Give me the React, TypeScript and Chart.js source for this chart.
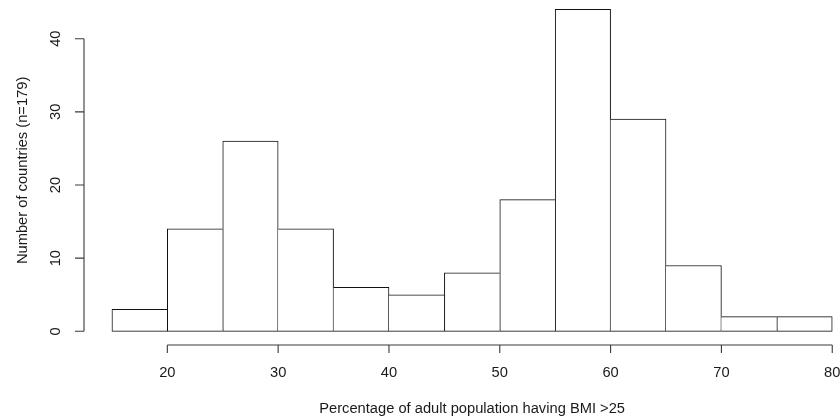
import React, { useEffect, useRef } from "react";
import { Chart, registerables } from "chart.js";

Chart.register(...registerables);

// Histogram data
const breaks: number[] = [15, 20, 25, 30, 35, 40, 45, 50, 55, 60, 65, 70, 75, 80];
const counts: number[] = [3, 14, 26, 14, 6, 5, 8, 18, 44, 29, 9, 2, 2];
const xTicks: number[] = [20, 30, 40, 50, 60, 70, 80];
const yTicks: number[] = [0, 10, 20, 30, 40];
const xTitle = "Percentage of adult population having BMI >25";
const yTitle = "Number of countries (n=179)";

const FONT = '14.7px "Liberation Sans", Arial, "DejaVu Sans", sans-serif';
const TEXT_COLOR = "#1a1a1a";
const AXIS_COLOR = "#3a3a3a";

const rAxesPlugin = {
  id: "rAxes",
  afterDraw(chart: any) {
    const ctx = chart.ctx as CanvasRenderingContext2D;
    const xs = chart.scales.x;
    const ys = chart.scales.y;
    const area = chart.chartArea;
    ctx.save();
    ctx.strokeStyle = AXIS_COLOR;
    ctx.lineWidth = 1.1;
    ctx.fillStyle = TEXT_COLOR;
    ctx.font = FONT;

    // Y axis
    const ax = area.left;
    const y0 = ys.getPixelForValue(yTicks[0]);
    const y1 = ys.getPixelForValue(yTicks[yTicks.length - 1]);
    ctx.beginPath();
    ctx.moveTo(ax, y0);
    ctx.lineTo(ax, y1);
    yTicks.forEach((t) => {
      const py = ys.getPixelForValue(t);
      ctx.moveTo(ax, py);
      ctx.lineTo(ax - 9, py);
    });
    // X axis
    const ay = area.bottom;
    const x0 = xs.getPixelForValue(xTicks[0]);
    const x1 = xs.getPixelForValue(xTicks[xTicks.length - 1]);
    ctx.moveTo(x0, ay);
    ctx.lineTo(x1, ay);
    xTicks.forEach((t) => {
      const px = xs.getPixelForValue(t);
      ctx.moveTo(px, ay);
      ctx.lineTo(px, ay + 8);
    });
    ctx.stroke();

    // tick labels
    ctx.textAlign = "center";
    ctx.textBaseline = "middle";
    xTicks.forEach((t) => {
      ctx.fillText(String(t), xs.getPixelForValue(t), ay + 28);
    });
    yTicks.forEach((t) => {
      ctx.save();
      ctx.translate(ax - 28, ys.getPixelForValue(t));
      ctx.rotate(-Math.PI / 2);
      ctx.fillText(String(t), 0, 0);
      ctx.restore();
    });

    // titles
    const cx = xs.getPixelForValue((breaks[0] + breaks[breaks.length - 1]) / 2);
    ctx.fillText(xTitle, cx, ay + 64);
    ctx.save();
    ctx.translate(23, ys.getPixelForValue(Math.max(...counts) / 2));
    ctx.rotate(-Math.PI / 2);
    ctx.fillText(yTitle, 0, 0);
    ctx.restore();

    ctx.restore();
  },
};

export default function App() {
  const ref = useRef<HTMLCanvasElement | null>(null);

  useEffect(() => {
    if (!ref.current) return;
    const points = counts.map((c, i) => ({ x: (breaks[i] + breaks[i + 1]) / 2, y: c }));
    const chart = new Chart(ref.current, {
      type: "bar",
      data: {
        datasets: [
          {
            data: points as any,
            backgroundColor: "#ffffff",
            borderColor: "#111111",
            borderSkipped: false,
            barPercentage: 1,
            categoryPercentage: 1,
            borderWidth: (c: any) => {
              const i = c.dataIndex;
              const v = counts[i];
              const prev = i > 0 ? counts[i - 1] : -1;
              const next = i < counts.length - 1 ? counts[i + 1] : -1;
              return { top: 1, bottom: 1, left: v >= prev ? 1 : 0, right: v > next ? 1 : 0 };
            },
          } as any,
        ],
      },
      options: {
        responsive: false,
        animation: false,
        devicePixelRatio: 1,
        layout: { padding: { left: 84, top: 0, right: 0, bottom: 75 } },
        plugins: { legend: { display: false }, tooltip: { enabled: false } },
        scales: {
          x: { type: "linear", display: false, offset: false, min: 12.48, max: 80.7 },
          y: { type: "linear", display: false, min: -1.87, max: 45.29 },
        },
      },
      plugins: [rAxesPlugin],
    });
    return () => chart.destroy();
  }, []);

  return (
    <div style={{ position: "fixed", left: 0, top: 0, width: 840, height: 420, background: "#fff" }}>
      <canvas ref={ref} width={840} height={420} style={{ display: "block", width: 840, height: 420 }} />
    </div>
  );
}
